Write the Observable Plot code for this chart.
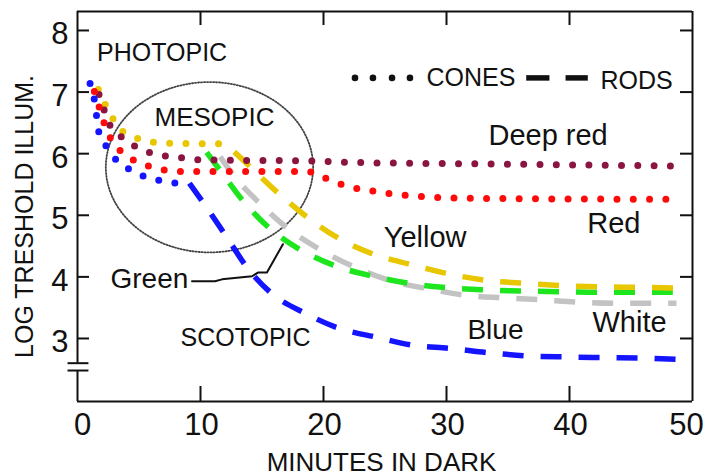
<!DOCTYPE html>
<html><head><meta charset="utf-8">
<script src="https://cdn.jsdelivr.net/npm/d3@7"></script>
<script src="https://cdn.jsdelivr.net/npm/@observablehq/plot@0.6"></script>
<style>body{margin:0;background:#fff} #chart svg{display:block}</style>
</head><body><div id="chart"></div>
<script>
// ---- data (minutes in dark, log threshold illumination) ----
const xTicks = [0, 10, 20, 30, 40, 50];
const yTicks = [3, 4, 5, 6, 7, 8];

const blueCones = [[1.02,7.14],[1.37,6.875],[1.56,6.60],[1.75,6.34],[2.37,6.11],[3.19,5.89],[4.27,5.74],[5.43,5.63],[6.79,5.56],[8.07,5.52]];
const blueRods = [[9.1,5.52],[10.28,5.19],[12.15,4.64],[13.76,4.16],[15.79,3.73],[18.5,3.41],[21.34,3.16],[24.33,3.02],[27.28,2.89],[30.28,2.84],[33.37,2.77],[36.38,2.72],[39.77,2.70],[42.89,2.69],[45.98,2.68],[48.74,2.66]];

const redCones = [[1.37,7.01],[1.77,6.75],[2.18,6.49],[2.64,6.27],[3.51,6.04],[4.62,5.89],[5.89,5.79],[7.17,5.73],[8.47,5.71],[18.7,5.71],[19.93,5.62],[21.2,5.52],[22.4,5.45],[23.8,5.40],[25.1,5.36],[26.4,5.33],[27.7,5.31],[29.1,5.29],[35,5.27],[49,5.26]];

const deepRedCones = [[1.75,6.96],[2.18,6.70],[2.64,6.46],[3.59,6.27],[4.67,6.12],[5.98,6.01],[7.25,5.96],[8.55,5.93],[9.88,5.90],[19.1,5.88],[21.9,5.86],[35,5.83],[48.4,5.80]];

const yellowCones = [[1.69,7.04],[2.10,6.86],[2.64,6.65],[3.46,6.40],[4.49,6.28],[5.76,6.20],[7.11,6.17],[12.4,6.16]];
const yellowRods = [[12.75,6.03],[13.76,5.84],[16.2,5.38],[18.6,4.98],[21.2,4.63],[24.05,4.37],[26.9,4.21],[29.9,4.06],[33.0,3.95],[36.0,3.90],[39.2,3.86],[42.3,3.84],[45.5,3.83],[48.6,3.82]];

const greenRods = [[10.5,6.02],[11.59,5.73],[13.35,5.26],[15.5,4.81],[17.95,4.46],[20.8,4.19],[23.8,4.02],[26.8,3.90],[29.7,3.83],[33.0,3.79],[36.1,3.77],[39.2,3.76],[42.3,3.75],[48.4,3.75]];

const whiteRods = [[11.6,5.95],[12.67,5.65],[14.84,5.19],[16.95,4.81],[19.58,4.46],[22.4,4.17],[25.95,3.91],[28.7,3.80],[31.6,3.70],[34.6,3.66],[37.6,3.63],[40.6,3.59],[43.6,3.57],[48.7,3.57]];

// annotations
const greenLeader = [[9.31,3.93],[11.18,3.93],[11.75,3.96],[14.19,4.01],[14.67,4.07],[15.4,4.07],[16.7,4.53]];
const mesopicEllipse = {cx: 10.73, cy: 5.78, rx: 8.43, ry: 1.383};
const legendDots = [22.56, 24.02, 25.57, 27.03];
const legendDashes = [[36.52, 38.41], [39.72, 41.53]];
const legendY = 7.23;
const yBreak = [2.599, 2.48];

// ---- layout ----
const W = 706, H = 476, mL = 77, mR = 14, mT = 11, mB = 75;
const xDomain = [0, 50], yDomain = [1.977, 8.308];
const frameW = W - mL - mR, frameH = H - mT - mB;
const sans = "'Liberation Sans', Arial, Helvetica, sans-serif";
const ink = "#111";

const C = {blue: "#1414ff", red: "#ff0a0a", deep: "#8a1540", yellow: "#e8c600", green: "#1ee61e", white: "#c3c3c3"};

const px = d => d[0], py = d => d[1];
const dotted = (data, color) => Plot.line(data, {x: px, y: py, stroke: color, strokeWidth: 7, strokeLinecap: "round", strokeDasharray: "0 16.3", curve: "monotone-x"});
const dashed = (data, color) => Plot.line(data, {x: px, y: py, stroke: color, strokeWidth: 5.5, strokeLinecap: "butt", strokeDasharray: "21 17", curve: "monotone-x"});
const label = (t, x, y, size) => Plot.text([t], {x: () => x, y: () => y, text: d => d, textAnchor: "start", lineAnchor: "middle", fontSize: size, fill: ink});

const ell = d3.range(0, 361, 4).map(a => {
  const r = a * Math.PI / 180;
  return [mesopicEllipse.cx + mesopicEllipse.rx * Math.cos(r), mesopicEllipse.cy + mesopicEllipse.ry * Math.sin(r)];
});

const tickText = {fontSize: 31, fill: ink, ariaLabel: "narrow-tick"};

const chart = Plot.plot({
  width: W, height: H,
  marginLeft: mL, marginRight: mR, marginTop: mT, marginBottom: mB,
  style: {fontFamily: sans, background: "#fff", color: ink},
  x: {domain: xDomain, axis: null},
  y: {domain: yDomain, axis: null},
  marks: [
    // mesopic ellipse
    Plot.line(ell, {x: px, y: py, stroke: "#444", strokeWidth: 1.8, strokeDasharray: "1.2 1.8", curve: "linear-closed"}),
    // curves
    dashed(whiteRods, C.white),
    dashed(greenRods, C.green),
    dotted(yellowCones, C.yellow),
    dashed(yellowRods, C.yellow),
    dotted(deepRedCones, C.deep),
    dotted(redCones, C.red),
    dotted(blueCones, C.blue),
    dashed(blueRods, C.blue),
    // green leader
    Plot.line(greenLeader, {x: px, y: py, stroke: ink, strokeWidth: 2}),
    // frame
    Plot.ruleY([yDomain[1]], {stroke: ink, strokeWidth: 2}),
    Plot.ruleY([yDomain[0]], {stroke: ink, strokeWidth: 2}),
    Plot.ruleX([xDomain[1]], {stroke: ink, strokeWidth: 2}),
    Plot.ruleX([xDomain[0]], {y1: yBreak[0], y2: yDomain[1], stroke: ink, strokeWidth: 2}),
    Plot.ruleX([xDomain[0]], {y1: yDomain[0], y2: yBreak[1], stroke: ink, strokeWidth: 2}),
    Plot.ruleY(yBreak, {x1: -0.77, x2: 0.93, stroke: ink, strokeWidth: 2}),
    // ticks (inward)
    Plot.tickY(yTicks, {y: d => d, insetRight: frameW - 12, stroke: ink, strokeWidth: 2}),
    Plot.tickY(yTicks, {y: d => d, insetLeft: frameW - 12, stroke: ink, strokeWidth: 2}),
    Plot.tickX(xTicks.slice(1, -1), {x: d => d, insetBottom: frameH - 14, stroke: ink, strokeWidth: 2}),
    Plot.tickX(xTicks.slice(1, -1), {x: d => d, insetTop: frameH - 15, stroke: ink, strokeWidth: 2}),
    // tick labels
    Plot.text(yTicks, {y: d => d, frameAnchor: "left", textAnchor: "end", lineAnchor: "middle", dx: -9, dy: 4, ...tickText}),
    Plot.text(xTicks.slice(0, 1), {x: d => d, frameAnchor: "bottom", lineAnchor: "top", dx: 5, dy: 11, ...tickText}),
    Plot.text(xTicks.slice(1, -1), {x: d => d, frameAnchor: "bottom", lineAnchor: "top", dx: 1, dy: 11, ...tickText}),
    Plot.text(xTicks.slice(-1), {x: d => d, frameAnchor: "bottom", lineAnchor: "top", dx: -6, dy: 11, ...tickText}),
    // axis titles
    Plot.text(["MINUTES IN DARK"], {frameAnchor: "bottom", textAnchor: "middle", lineAnchor: "middle", dx: -3.5, dy: 61.5, fontSize: 26, fill: ink}),
    Plot.text(["LOG TRESHOLD ILLUM."], {frameAnchor: "left", rotate: -90, textAnchor: "middle", lineAnchor: "middle", dx: -53, dy: 10, fontSize: 25, fill: ink, ariaLabel: "narrow-ylabel"}),
    // legend
    Plot.dot(legendDots, {x: d => d, y: () => legendY, r: 3.3, fill: ink, stroke: "none"}),
    Plot.ruleY(legendDashes, {x1: d => d[0], x2: d => d[1], y: () => legendY, stroke: ink, strokeWidth: 5.5}),
    label("CONES", 28.37, legendY, 25),
    label("RODS", 42.52, 7.18, 25),
    // labels
    label("PHOTOPIC", 1.59, 7.635, 25),
    label("MESOPIC", 6.26, 6.58, 26),
    label("SCOTOPIC", 8.37, 3.01, 25),
    label("Deep red", 33.41, 6.29, 29),
    label("Red", 41.44, 4.86, 29),
    label("Yellow", 24.9, 4.64, 29),
    label("Green", 2.68, 3.97, 28),
    label("Blue", 31.7, 3.13, 28),
    label("White", 41.87, 3.25, 29)
  ]
});

// condense glyphs horizontally (narrow typeface look of the original)
function condense(root, aria, s) {
  root.querySelectorAll(`g[aria-label="${aria}"] text`).forEach(t => {
    const tr = t.getAttribute("transform");
    if (tr) {
      t.setAttribute("transform", `${tr} scale(${s},1)`);
    } else {
      const x = +t.getAttribute("x") || 0, y = +t.getAttribute("y") || 0;
      t.removeAttribute("x"); t.removeAttribute("y");
      t.setAttribute("transform", `translate(${x},${y}) scale(${s},1)`);
    }
  });
}
condense(chart, "narrow-tick", 0.86);
condense(chart, "narrow-ylabel", 0.875);
document.getElementById("chart").append(chart);
</script>
</body></html>
